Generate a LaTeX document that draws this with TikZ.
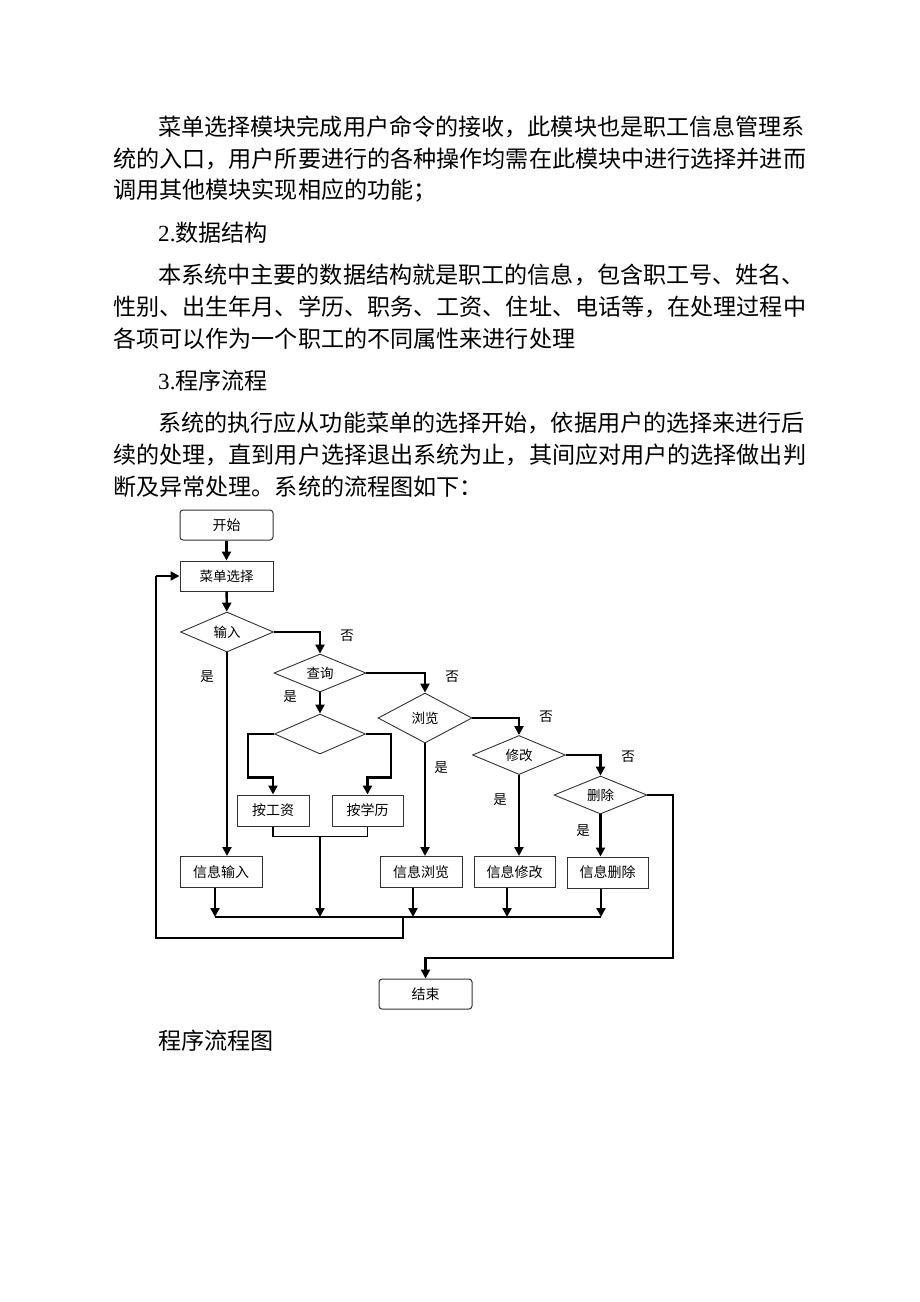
\documentclass[tikz,border=0pt]{standalone}
\usepackage{fontspec}
\setmainfont{Noto Sans CJK SC}
\newfontfamily\latinserif{Liberation Serif}
\usetikzlibrary{arrows.meta,shapes.geometric,calc}
\begin{document}
\begin{tikzpicture}[x=1pt,y=-1pt,
  para/.style={anchor=west, inner sep=0pt, font=\fontsize{23.1}{23.1}\selectfont},
  pbox/.style={draw=black!80, line width=1pt, inner sep=0pt, minimum height=31pt, font=\fontsize{14}{14}\selectfont},
  tbox/.style={pbox, rounded corners=3pt},
  dec/.style={draw=black!80, line width=0.9pt, shape=diamond, aspect=2.3, inner sep=0pt, font=\fontsize{13.5}{13.5}\selectfont},
  lbl/.style={inner sep=0pt, font=\fontsize{13.5}{13.5}\selectfont},
  arr/.style={line width=2.4pt, -{Triangle[length=9pt,width=9pt]}},
  thk/.style={line width=2.4pt},
  thn/.style={line width=1.1pt},
  thnarr/.style={line width=2.4pt, -{Triangle[length=9pt,width=9pt]}}
]
\useasboundingbox[fill=white] (0,0) rectangle (920,1302);

% ---------- paragraphs ----------
\node[para] (p1) at (158,127) {菜单选择模块完成用户命令的接收，此模块也是职工信息管理系};
\node[para] (p2) at (113,159) {统的入口，用户所要进行的各种操作均需在此模块中进行选择并进而};
\node[para] (p3) at (113,191) {调用其他模块实现相应的功能；};
\node[para] (h2) at (158,233) {{\latinserif 2.}数据结构};
\node[para] (p4) at (158,275) {本系统中主要的数据结构就是职工的信息，包含职工号、姓名、};
\node[para] (p5) at (113,307) {性别、出生年月、学历、职务、工资、住址、电话等，在处理过程中};
\node[para] (p6) at (113,339) {各项可以作为一个职工的不同属性来进行处理};
\node[para] (h3) at (158,381) {{\latinserif 3.}程序流程};
\node[para] (p7) at (158,423) {系统的执行应从功能菜单的选择开始，依据用户的选择来进行后};
\node[para] (p8) at (113,455) {续的处理，直到用户选择退出系统为止，其间应对用户的选择做出判};
\node[para] (p9) at (113,487) {断及异常处理。系统的流程图如下：};
\node[para] (cap) at (158,1041) {程序流程图};

% ---------- flowchart nodes ----------
\node[tbox, minimum width=93pt, minimum height=30pt] (start) at (226.5,525) {开始};
\node[pbox, minimum width=93pt, minimum height=30pt, font=\fontsize{13.5}{13.5}\selectfont] (menu) at (226.5,576) {菜单选择};
\node[dec, minimum width=93pt, minimum height=40pt] (in) at (227,632) {输入};
\node[dec, minimum width=92pt, minimum height=38pt] (q) at (320,673) {查询};
\node[dec, minimum width=91pt, minimum height=40pt] (sub) at (320,734) {};
\node[dec, minimum width=94pt, minimum height=50pt] (br) at (425,718) {浏览};
\node[dec, minimum width=93pt, minimum height=39pt] (md) at (519,755) {修改};
\node[dec, minimum width=93pt, minimum height=38pt] (de) at (600.5,795) {删除};

\node[pbox, minimum width=72pt] (sal) at (273,810.5) {按工资};
\node[pbox, minimum width=71pt] (edu) at (367.5,810.5) {按学历};
\node[pbox, minimum width=82pt] (inp) at (221,872) {信息输入};
\node[pbox, minimum width=82pt] (view) at (421,872) {信息浏览};
\node[pbox, minimum width=81pt] (mod) at (514.5,872) {信息修改};
\node[pbox, minimum width=81pt] (del) at (607.5,872.5) {信息删除};
\node[tbox, minimum width=93pt, minimum height=30pt] (end) at (425.5,994) {结束};

% ---------- labels ----------
\node[lbl] (n1) at (347,636) {否};
\node[lbl] (y1) at (207,677) {是};
\node[lbl] (n2) at (452,677) {否};
\node[lbl] (y2) at (290,697) {是};
\node[lbl] (n3) at (546,717) {否};
\node[lbl] (y3) at (441,768) {是};
\node[lbl] (n4) at (628,757) {否};
\node[lbl] (y4) at (500,800) {是};
\node[lbl] (y5) at (583,831) {是};

% ---------- coordinates ----------
\coordinate (b1) at (215,917);
\coordinate (b2) at (320,917);
\coordinate (b3) at (413,917);
\coordinate (b4) at (507,917);
\coordinate (b5) at (601,917);
\coordinate (bj) at (403,917);
\coordinate (lp1) at (403,938);
\coordinate (lp2) at (156,938);
\coordinate (lp3) at (156,576);
\coordinate (jn) at (320,836);
\coordinate (r1) at (673,795);
\coordinate (r2) at (673,937);
\coordinate (r3) at (673,958);

% ---------- connectors ----------
\draw[arr] (start) -- (menu);
\draw[arr] (menu) -- (in);
\draw[arr] (in.east) -| (q.north);
\draw[arr] (q.east) -| (br.north);
\draw[arr] (br.east) -| (md.north);
\draw[arr] (md.east) -| (de.north);
\draw[arr] (q.south) -- (sub.north);

\draw[arr] (in.south) -- (in.south |- inp.north);
\draw[line width=1.3pt] (br.south) -- ($(br.south)!0.4!(br.south |- view.north)$);
\draw[arr] ($(br.south)!0.38!(br.south |- view.north)$) -- (br.south |- view.north);
\draw[arr] (md.south) -- (md.south |- mod.north);
\draw[arr] (de.south) -- (de.south |- del.north);

\draw[arr] (sub.west) -- ++(-26,0) |- ($(sal.north)+(0,-17)$) -- (sal.north);
\draw[arr] (sub.east) -- ++(25,0) |- ($(edu.north)+(0,-17)$) -- (edu.north);
\draw[thn] (sal.south) -- ++(0,10) -| (edu.south);
\draw[arr] (jn) -- (b2);

\draw[arr] (inp.south -| b1) -- (b1);
\draw[arr] (view.south -| b3) -- (b3);
\draw[arr] (mod.south -| b4) -- (b4);
\draw[arr] (del.south -| b5) -- (b5);
\draw[thn] (b1) -- (b5);

\draw[line width=1.5pt] (bj) -- (lp1) -- (lp2) -- (lp3);
\draw[arr] (lp3) -- (menu.west);

\draw[thn] (de.east) -- (r1) -- (r2);
\draw[arr] (r2) -- (r3) -| (end.north);
\end{tikzpicture}
\end{document}
